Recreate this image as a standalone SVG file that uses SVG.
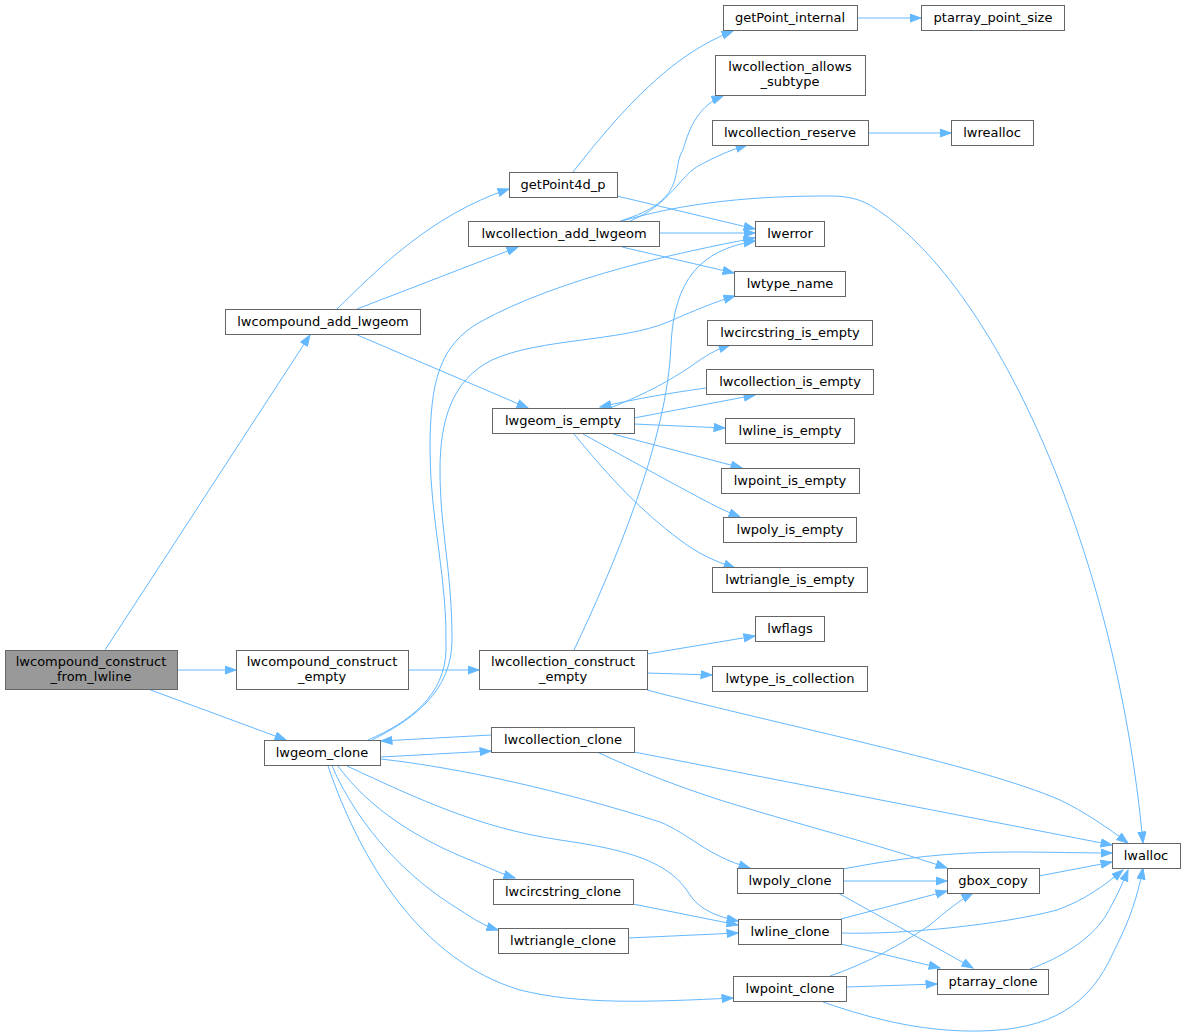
<svg xmlns="http://www.w3.org/2000/svg" width="1185" height="1036" viewBox="0 0 1185 1036">
<style>
.n rect{fill:#fff;stroke:#666;stroke-width:1}
.m rect{fill:#999;stroke:#666;stroke-width:1}
text{font-family:"DejaVu Sans",sans-serif;font-size:13px;fill:#000;text-anchor:middle}
.e path{fill:none;stroke:#63b8ff;stroke-width:1;marker-end:url(#a)}
</style>
<defs>
<marker id="a" markerUnits="userSpaceOnUse" markerWidth="13" markerHeight="10" refX="11.5" refY="4.5" orient="auto"><path d="M0.5,0.5 L11.5,4.5 L0.5,8.5 z" fill="#63b8ff" stroke="#63b8ff" stroke-width="1"/></marker>
</defs>
<rect width="1185" height="1036" fill="#fff"/>
<g class="e">
<path d="M105,650 L310,335"/>
<path d="M177,670 L236,670"/>
<path d="M148,689 L286,740"/>
<path d="M337,309 C375,272 430,215 509,189"/>
<path d="M357,309 L518,247"/>
<path d="M355,334 L528,408"/>
<path d="M573,172 C620,112 670,55 733,31"/>
<path d="M617,196 L755,229"/>
<path d="M620,221 C690,200 670,170 683,150 C690,125 700,105 723,96"/>
<path d="M630,221 C670,205 680,175 700,165 C715,157 730,150 747,145"/>
<path d="M622,221 C700,198 780,196 830,196 C850,196 862,200 873,207 C990,280 1115,540 1143,843"/>
<path d="M659,233 L755,233"/>
<path d="M622,247 L734,273"/>
<path d="M368,740 C410,722 445,695 446,650 C448,580 430,520 430,450 C430,380 440,345 480,322 C560,278 680,252 755,238"/>
<path d="M372,740 C412,720 452,692 452,640 C452,570 440,530 440,470 C440,420 452,380 492,360 C540,338 620,342 668,322 C700,308 718,301 735,296"/>
<path d="M408,670 L479,670"/>
<path d="M574,650 C612,570 668,440 671,345 C674,280 700,250 755,241"/>
<path d="M647,654 L755,636"/>
<path d="M647,673 L712,675"/>
<path d="M647,690 C780,725 980,765 1060,800 C1085,812 1108,828 1128,843"/>
<path d="M610,408 C650,392 670,380 690,367 C705,356 715,350 730,345"/>
<path d="M706,388 C670,393 640,398 600,407"/>
<path d="M634,418 L755,395"/>
<path d="M634,424 L725,428"/>
<path d="M613,434 L742,468"/>
<path d="M583,434 C630,460 670,482 700,498 C715,506 725,511 740,517"/>
<path d="M574,434 C610,478 640,510 680,540 C700,555 715,561 735,568"/>
<path d="M381,757 L491,751"/>
<path d="M491,735 L381,741"/>
<path d="M634,752 L1112,845"/>
<path d="M597,752 C640,772 680,787 720,800 C790,822 880,845 947,868"/>
<path d="M381,759 C460,768 560,790 660,822 C690,834 705,855 750,868"/>
<path d="M347,766 C420,800 480,828 560,840 C630,850 670,862 690,895 C700,910 718,917 738,921"/>
<path d="M338,766 C370,810 420,840 470,860 C490,868 502,874 515,878"/>
<path d="M332,766 C360,830 410,880 460,910 C475,920 485,926 498,930"/>
<path d="M328,766 C360,860 420,960 520,990 C580,1005 650,1002 733,998"/>
<path d="M633,904 L738,925"/>
<path d="M628,938 L738,933"/>
<path d="M843,869 C900,858 950,852 1013,852 C1050,852 1080,853 1112,853"/>
<path d="M843,881 L947,881"/>
<path d="M838,893 L973,968"/>
<path d="M841,919 L947,891"/>
<path d="M841,933 C900,935 1000,925 1057,910 C1085,900 1105,885 1123,870"/>
<path d="M841,944 L940,968"/>
<path d="M830,976 C870,962 900,945 930,925 C945,912 960,900 973,893"/>
<path d="M846,987 L937,984"/>
<path d="M823,1002 C880,1022 930,1032 980,1031 C1050,1030 1090,1005 1113,953 C1130,920 1138,895 1143,868"/>
<path d="M1039,876 L1112,862"/>
<path d="M1030,969 C1060,958 1090,940 1105,917 C1115,900 1122,885 1128,870"/>
<path d="M857,18 L921,18"/>
<path d="M868,133 L951,133"/>
</g>
<g id="n1" class="m"><rect x="5.5" y="650.5" width="172" height="39"/><text x="91" y="666">lwcompound_construct</text><text x="91" y="681">_from_lwline</text></g>
<g id="n2" class="n"><rect x="225.5" y="309.5" width="195" height="25"/><text x="323" y="326">lwcompound_add_lwgeom</text></g>
<g id="n3" class="n"><rect x="236.5" y="650.5" width="172" height="39"/><text x="322" y="666">lwcompound_construct</text><text x="322" y="681">_empty</text></g>
<g id="n4" class="n"><rect x="264.5" y="740.5" width="116" height="25"/><text x="322" y="757">lwgeom_clone</text></g>
<g id="n5" class="n"><rect x="509.5" y="172.5" width="108" height="25"/><text x="563" y="189">getPoint4d_p</text></g>
<g id="n6" class="n"><rect x="468.5" y="221.5" width="191" height="25"/><text x="564" y="238">lwcollection_add_lwgeom</text></g>
<g id="n7" class="n"><rect x="492.5" y="408.5" width="142" height="25"/><text x="563" y="425">lwgeom_is_empty</text></g>
<g id="n8" class="n"><rect x="479.5" y="650.5" width="168" height="39"/><text x="563" y="666">lwcollection_construct</text><text x="563" y="681">_empty</text></g>
<g id="n9" class="n"><rect x="491.5" y="727.5" width="143" height="25"/><text x="563" y="744">lwcollection_clone</text></g>
<g id="n10" class="n"><rect x="493.5" y="879.5" width="140" height="25"/><text x="563" y="896">lwcircstring_clone</text></g>
<g id="n11" class="n"><rect x="498.5" y="928.5" width="130" height="25"/><text x="563" y="945">lwtriangle_clone</text></g>
<g id="n12" class="n"><rect x="723.5" y="5.5" width="134" height="25"/><text x="790" y="22">getPoint_internal</text></g>
<g id="n13" class="n"><rect x="715.5" y="55.5" width="150" height="40"/><text x="790" y="71">lwcollection_allows</text><text x="790" y="86">_subtype</text></g>
<g id="n14" class="n"><rect x="712.5" y="120.5" width="156" height="25"/><text x="790" y="137">lwcollection_reserve</text></g>
<g id="n15" class="n"><rect x="755.5" y="221.5" width="69" height="25"/><text x="790" y="238">lwerror</text></g>
<g id="n16" class="n"><rect x="734.5" y="271.5" width="111" height="25"/><text x="790" y="288">lwtype_name</text></g>
<g id="n17" class="n"><rect x="707.5" y="320.5" width="165" height="25"/><text x="790" y="337">lwcircstring_is_empty</text></g>
<g id="n18" class="n"><rect x="706.5" y="369.5" width="167" height="25"/><text x="790" y="386">lwcollection_is_empty</text></g>
<g id="n19" class="n"><rect x="725.5" y="418.5" width="129" height="25"/><text x="790" y="435">lwline_is_empty</text></g>
<g id="n20" class="n"><rect x="721.5" y="468.5" width="138" height="25"/><text x="790" y="485">lwpoint_is_empty</text></g>
<g id="n21" class="n"><rect x="723.5" y="517.5" width="133" height="25"/><text x="790" y="534">lwpoly_is_empty</text></g>
<g id="n22" class="n"><rect x="712.5" y="567.5" width="155" height="25"/><text x="790" y="584">lwtriangle_is_empty</text></g>
<g id="n23" class="n"><rect x="755.5" y="616.5" width="69" height="25"/><text x="790" y="633">lwflags</text></g>
<g id="n24" class="n"><rect x="712.5" y="666.5" width="155" height="25"/><text x="790" y="683">lwtype_is_collection</text></g>
<g id="n25" class="n"><rect x="921.5" y="5.5" width="143" height="25"/><text x="993" y="22">ptarray_point_size</text></g>
<g id="n26" class="n"><rect x="951.5" y="120.5" width="82" height="25"/><text x="992" y="137">lwrealloc</text></g>
<g id="n27" class="n"><rect x="1112.5" y="843.5" width="68" height="25"/><text x="1146" y="860">lwalloc</text></g>
<g id="n28" class="n"><rect x="947.5" y="868.5" width="92" height="25"/><text x="993" y="885">gbox_copy</text></g>
<g id="n29" class="n"><rect x="737.5" y="868.5" width="106" height="25"/><text x="790" y="885">lwpoly_clone</text></g>
<g id="n30" class="n"><rect x="738.5" y="919.5" width="103" height="25"/><text x="790" y="936">lwline_clone</text></g>
<g id="n31" class="n"><rect x="733.5" y="976.5" width="113" height="25"/><text x="790" y="993">lwpoint_clone</text></g>
<g id="n32" class="n"><rect x="937.5" y="969.5" width="111" height="25"/><text x="993" y="986">ptarray_clone</text></g>
</svg>
